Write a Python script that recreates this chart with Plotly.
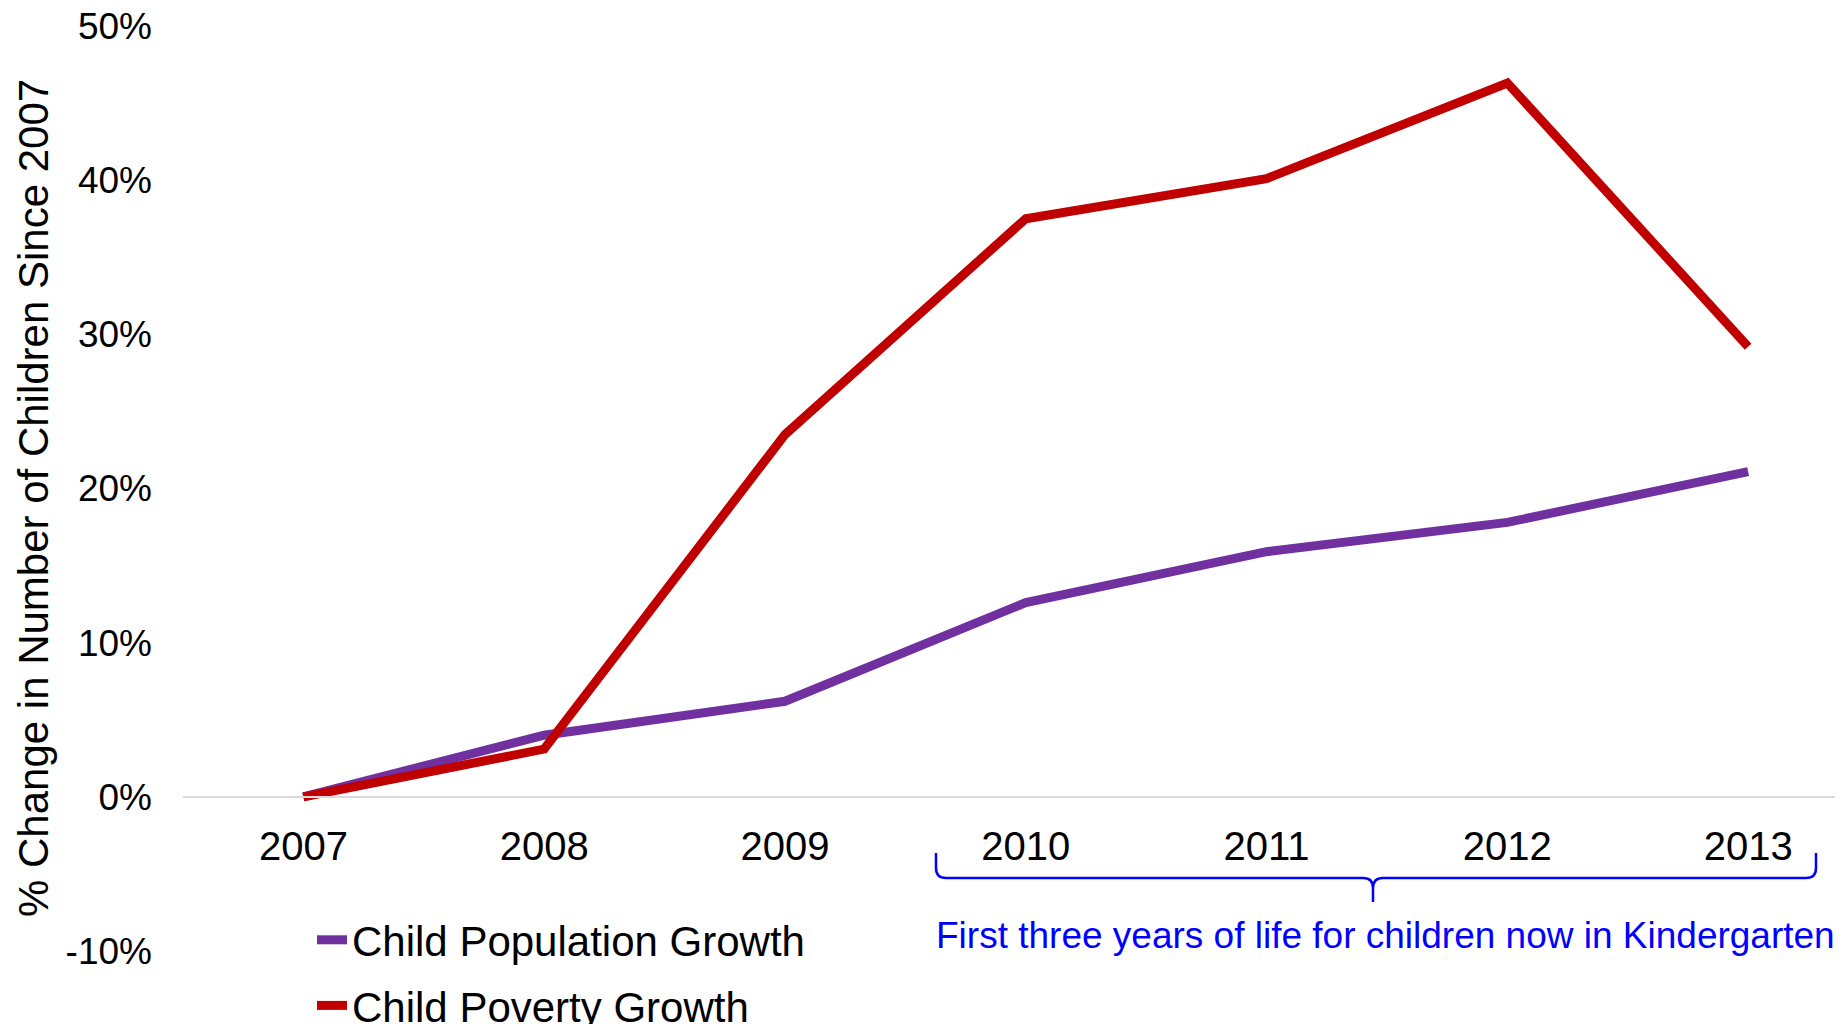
import plotly.graph_objects as go

years = ["2007", "2008", "2009", "2010", "2011", "2012", "2013"]
population_growth = [0.0, 4.0, 6.2, 12.6, 15.9, 17.8, 21.1]
poverty_growth = [0.0, 3.1, 23.5, 37.5, 40.1, 46.3, 29.2]
y_tickvals = [-10, 0, 10, 20, 30, 40, 50]
y_ticktext = ["-10%", "0%", "10%", "20%", "30%", "40%", "50%"]
series_names = ["Child Population Growth", "Child Poverty Growth"]
y_title = "% Change in Number of Children Since 2007"
brace_note = "First three years of life for children now in Kindergarten"

W, H = 1843, 1024
OFF = 8  # page body margin in the rendered html
# plot area in page pixels: left 183, right 1843, top 26, bottom 951
L, R, T, B = 183 - OFF, OFF, 26 - OFF, H - (951 - OFF)
PW, PH = W - L - R, H - T - B
FONT = "Arial, Liberation Sans, sans-serif"


def px(x):
    return (x - OFF - L) / PW


def py(y):
    return (H - B - (y - OFF)) / PH


fig = go.Figure()
fig.add_trace(go.Scatter(x=years, y=population_growth, mode="lines", name=series_names[0],
                         line=dict(color="#7030A0", width=9), legendgroup="a"))
fig.add_trace(go.Scatter(x=years, y=poverty_growth, mode="lines", name=series_names[1],
                         line=dict(color="#C00000", width=9), legendgroup="b"))

zero_pos = py(797)

fig.update_layout(
    width=W, height=H, autosize=False,
    margin=dict(l=L, r=R, t=T, b=B, pad=0, autoexpand=False),
    paper_bgcolor="white", plot_bgcolor="white",
    font=dict(family=FONT, color="black"),
    showlegend=True,
    legend=dict(x=px(312), y=py(906), xanchor="left", yanchor="top",
                font=dict(size=42, family=FONT), tracegroupgap=8,
                bgcolor="rgba(0,0,0,0)", itemwidth=30),
    xaxis=dict(type="category", range=[-0.5, 6.394], anchor="free", position=zero_pos,
               showline=True, linecolor="#D9D9D9", linewidth=2, showgrid=False,
               zeroline=False, ticks="", tickfont=dict(size=40, family=FONT),
               ticklabelstandoff=14),
    yaxis=dict(range=[-10, 50], tickvals=y_tickvals, ticktext=y_ticktext,
               showgrid=False, zeroline=False, showline=False, ticks="",
               tickfont=dict(size=37, family=FONT), ticklabelstandoff=30,
               ticklabeloverflow="allow"),
)

fig.add_annotation(text=y_title, textangle=-90, xref="paper", yref="paper",
                   x=px(33), y=py(498), xanchor="center", yanchor="middle",
                   showarrow=False, font=dict(size=42, family=FONT, color="black"))

fig.add_annotation(text=brace_note, xref="paper", yref="paper",
                   x=px(1385), y=py(935), xanchor="center", yanchor="middle",
                   showarrow=False, font=dict(size=37, family=FONT, color="#0000FF"))

# curly brace under 2010-2013
x0, xm, x1 = 936, 1373, 1816
ytop, yline, ytip = 853, 878, 902
r = 10


def P(x, y):
    return f"{px(x):.5f},{py(y):.5f}"


path = (f"M {P(x0, ytop)} L {P(x0, yline - r)} Q {P(x0, yline)} {P(x0 + r, yline)} "
        f"L {P(xm - r, yline)} Q {P(xm, yline)} {P(xm, yline + r)} L {P(xm, ytip)} "
        f"M {P(xm, yline + r)} Q {P(xm, yline)} {P(xm + r, yline)} "
        f"L {P(x1 - r, yline)} Q {P(x1, yline)} {P(x1, yline - r)} L {P(x1, ytop)}")
fig.add_shape(type="path", path=path, xref="paper", yref="paper",
              line=dict(color="#0000FF", width=2.5))

fig.write_html("out.html")
